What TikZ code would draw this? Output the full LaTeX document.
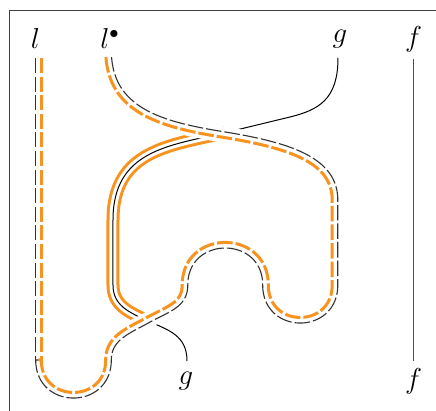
\documentclass[tikz,border=0pt]{standalone}
\usetikzlibrary{decorations,calc}
\definecolor{gor}{RGB}{247,147,30}
\pgfdeclaredecoration{offsetpoly}{go}{%
  \state{go}[width=0.8pt]{\pgfpathlineto{\pgfpointorigin}}%
  \state{final}{\pgfpathlineto{\pgfpointorigin}}%
}
\begin{document}
\begin{tikzpicture}[x=0.5pt,y=-0.5pt,
  lab/.style={font=\fontsize{13.5}{16}\selectfont},
  thinblk/.style={black, line width=0.5pt},
  gband/.style={gor, line width=1.5pt, double=white, double distance=3.5pt},
  ribwhite/.style={white, line width=8pt},
  ribO/.style={gor, line width=1.5pt, line cap=butt},
  ribB/.style={black!80, line width=0.55pt, line cap=butt},
  riborange/.style={ribO, dash pattern=on 7.8pt off 1.5pt, decorate, decoration={offsetpoly, raise=1.4pt}},
  ribblack/.style={ribB, dash pattern=on 7.8pt off 1.5pt, decorate, decoration={offsetpoly, raise=-1.4pt}},
  fline/.style={black!70, line width=0.6pt},
  framec/.style={black!75, line width=0.7pt}]
\useasboundingbox (0,0) rectangle (436,411);
% frame (clipped at right and bottom)
\draw[framec] (9.5,411) -- (9.5,10.5) -- (436,10.5);
% labels
\node[lab] (l) at (35.5,39) {$l$};
\node[lab] (ld) at (110,39) {$l^{\bullet}$};
\node[lab] (gt) at (340,39) {$g$};
\node[lab] (ft) at (413.5,39) {$f$};
\node[lab] (gb) at (186,381) {$g$};
\node[lab] (fb) at (413.5,381) {$f$};
% f strand
\draw[fline] (ft) -- (fb);
% g strand
\coordinate (g1) at (338,58);
\coordinate (g2) at (187,361);
\coordinate (gx1) at (225,132.6);
\coordinate (gx2) at (148,321);
\draw[gband] (gx1) .. controls (170,145.5) and (113,150) .. (113,220) -- (113,285)
   .. controls (113,305) and (128,312) .. (gx2);
\draw[thinblk] (g1) .. controls (338,100) and (318,110) .. (290,117)
   .. controls (265,123) and (245,128) .. (gx1)
   .. controls (170,145.5) and (113,150) .. (113,220) -- (113,285)
   .. controls (113,305) and (128,312) .. (gx2)
   .. controls (168,330) and (187,335) .. (g2);
% ribbon l -> l-bullet
\coordinate (ls) at (38.5,58);
\coordinate (lb) at (38.5,360);
\coordinate (lds) at (108.5,50);
\def\ribbonpath{(lb) .. controls (38.5,407) and (108.5,407) .. (108.5,360)
  .. controls (108.5,338) and (128,331) .. (148,320)
  .. controls (168,309) and (185,305) .. (185,285)
  .. controls (185,232) and (265.5,232) .. (265.5,285)
  .. controls (265.5,332) and (335,332) .. (335,285) -- (335,200)
  .. controls (335,160) and (290,145) .. (220,134)
  .. controls (160,124) and (108.5,110) .. (lds)}
% straight left part of the ribbon, dash by dash
\foreach \k in {0,...,15}{
  \fill[gor] ($(ls)+(1.3,18.6*\k)$) rectangle ($(ls)+(4.3,18.6*\k+15)$);
  \draw[ribB] ($(ls)+(-2.8,18.6*\k)$) -- ($(ls)+(-2.8,18.6*\k+15)$);
}
\fill[gor] ($(ls)+(1.3,297.6)$) rectangle ($(lb)+(4.3,0)$);
\draw[ribB] ($(ls)+(-2.8,297.6)$) -- ($(lb)+(-2.8,0)$);
\begin{scope}
\clip (0,58) rectangle (436,411);
\draw[ribwhite] \ribbonpath;
\draw[riborange] \ribbonpath;
\draw[ribblack] \ribbonpath;
\end{scope}
\end{tikzpicture}
\end{document}
